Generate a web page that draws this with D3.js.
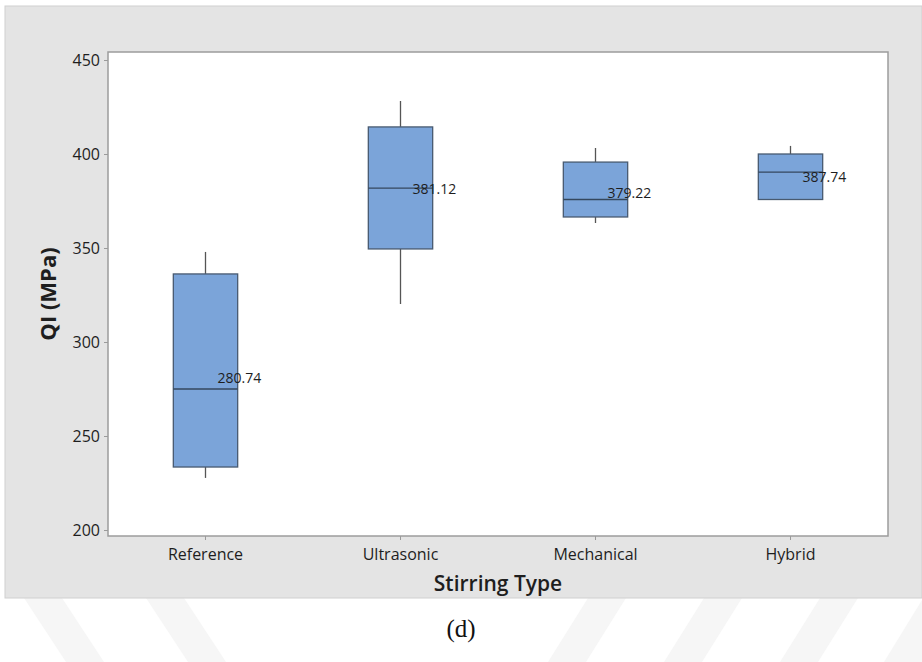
<!DOCTYPE html>
<html>
<head>
<meta charset="utf-8">
<script src="https://cdn.jsdelivr.net/npm/d3@7"></script>
<style>
  html, body { margin: 0; padding: 0; background: #ffffff; }
  svg { display: block; }
</style>
</head>
<body>
<svg id="chart" width="922" height="662"></svg>
<script>
// Boxplot of QI (MPa) by stirring type
const categories  = ["Reference", "Ultrasonic", "Mechanical", "Hybrid"];
const whiskerLow  = [227.7, 320.2, 363.3, 375.8];
const q1          = [233.5, 349.5, 366.5, 375.8];
const medians     = [275.0, 381.9, 375.8, 390.4];
const q3          = [336.2, 414.4, 395.7, 400.0];
const whiskerHigh = [347.9, 428.2, 403.2, 404.3];
const means       = [280.74, 381.12, 379.22, 387.74];
const yTicks      = [200, 250, 300, 350, 400, 450];

const W = 922, H = 662;
const plot = { left: 108, top: 52, right: 888, bottom: 536 };

const svg = d3.select("#chart");

// faint diagonal stripes behind the frame
const stripes = [
  [[24, 598], [62, 598], [104, 662], [66, 662]],
  [[146, 598], [184, 598], [226, 662], [188, 662]],
  [[548, 662], [586, 662], [626, 598], [588, 598]],
  [[664, 662], [702, 662], [742, 598], [704, 598]],
  [[780, 662], [818, 662], [858, 598], [820, 598]],
  [[884, 662], [922, 662], [922, 600], [922, 600]]
];
svg.append("g").selectAll("path").data(stripes).join("path")
  .attr("d", d => "M" + d.map(p => p.join(",")).join("L") + "Z")
  .attr("fill", "#f6f6f6");

// outer grey panel
svg.append("rect")
  .attr("x", 5).attr("y", 6).attr("width", W - 5).attr("height", 592)
  .attr("fill", "#e4e4e4")
  .attr("stroke", "#d0d0d0").attr("stroke-width", 1);

// data region
svg.append("rect")
  .attr("x", plot.left).attr("y", plot.top)
  .attr("width", plot.right - plot.left).attr("height", plot.bottom - plot.top)
  .attr("fill", "#ffffff");

const y = d3.scaleLinear()
  .domain([200, 450])
  .range([530, 60]);

const x = d3.scaleBand()
  .domain(categories)
  .range([plot.left, plot.right])
  .paddingInner(0.67)
  .paddingOuter(0.335);

const cx = c => x(c) + x.bandwidth() / 2;

// axes
const yAxis = svg.append("g")
  .attr("transform", `translate(${plot.left},0)`)
  .call(d3.axisLeft(y).tickValues(yTicks).tickSize(4).tickPadding(4));
const xAxis = svg.append("g")
  .attr("transform", `translate(0,${plot.bottom})`)
  .call(d3.axisBottom(x).tickSize(4).tickPadding(9));

[yAxis, xAxis].forEach(g => {
  g.select(".domain").remove();
  g.selectAll(".tick line").attr("stroke", "#9a9a9a");
  g.selectAll(".tick text")
    .attr("fill", "#1e1e1e")
    .style("font-family", "'Open Sans', sans-serif")
    .style("font-size", "16px");
});

// frame of the data region
svg.append("rect")
  .attr("x", plot.left).attr("y", plot.top)
  .attr("width", plot.right - plot.left).attr("height", plot.bottom - plot.top)
  .attr("fill", "none")
  .attr("stroke", "#9c9c9c").attr("stroke-width", 1.5);

// boxes
const rows = categories.map((c, i) => ({
  c, lo: whiskerLow[i], q1: q1[i], med: medians[i], q3: q3[i], hi: whiskerHigh[i], mean: means[i]
}));

const g = svg.append("g");
const box = g.selectAll("g.box").data(rows).join("g").attr("class", "box");

box.append("line")
  .attr("x1", d => cx(d.c)).attr("x2", d => cx(d.c))
  .attr("y1", d => y(d.q3)).attr("y2", d => y(d.hi))
  .attr("stroke", "#555").attr("stroke-width", 1.3);
box.append("line")
  .attr("x1", d => cx(d.c)).attr("x2", d => cx(d.c))
  .attr("y1", d => y(d.q1)).attr("y2", d => y(d.lo))
  .attr("stroke", "#555").attr("stroke-width", 1.3);

box.append("rect")
  .attr("x", d => x(d.c)).attr("width", x.bandwidth())
  .attr("y", d => y(d.q3)).attr("height", d => y(d.q1) - y(d.q3))
  .attr("fill", "#7ba4d9")
  .attr("stroke", "#485a70").attr("stroke-width", 1.3);

box.append("line")
  .attr("x1", d => x(d.c)).attr("x2", d => x(d.c) + x.bandwidth())
  .attr("y1", d => y(d.med)).attr("y2", d => y(d.med))
  .attr("stroke", "#34475e").attr("stroke-width", 1.3);

box.append("text")
  .attr("x", d => cx(d.c) + 12)
  .attr("y", d => y(d.mean))
  .attr("dy", "0.35em")
  .attr("fill", "#1e1e1e")
  .style("font-family", "'Open Sans', sans-serif")
  .style("font-size", "14px")
  .text(d => d.mean.toFixed(2));

// axis titles
svg.append("text")
  .attr("x", (plot.left + plot.right) / 2).attr("y", 591)
  .attr("text-anchor", "middle")
  .attr("fill", "#1e1e1e")
  .style("font-family", "'Open Sans', sans-serif")
  .style("font-size", "21px").style("font-weight", "600")
  .text("Stirring Type");

svg.append("text")
  .attr("transform", `translate(56,${(plot.top + plot.bottom) / 2}) rotate(-90)`)
  .attr("text-anchor", "middle")
  .attr("fill", "#1e1e1e")
  .style("font-family", "'Open Sans', sans-serif")
  .style("font-size", "22px").style("font-weight", "700")
  .text("QI (MPa)");

// caption
svg.append("text")
  .attr("x", 461).attr("y", 637)
  .attr("text-anchor", "middle")
  .attr("fill", "#111")
  .style("font-family", "'Liberation Serif', 'Times New Roman', serif")
  .style("font-size", "25px")
  .text("(d)");
</script>
</body>
</html>
